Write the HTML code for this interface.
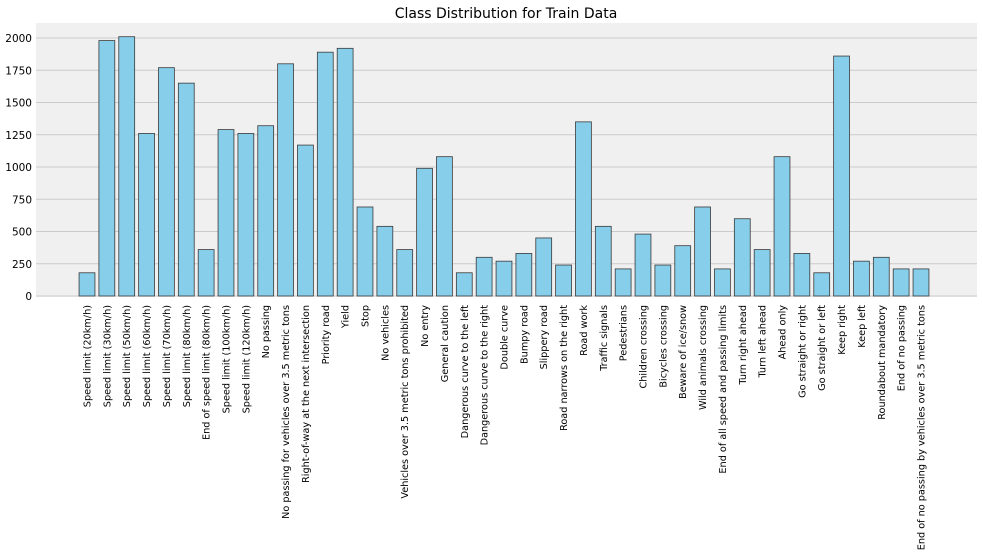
<!DOCTYPE html>
<html><head><meta charset="utf-8"><style>
body{margin:0;background:#fff;}
svg{display:block;font-family:"DejaVu Sans","Liberation Sans",sans-serif;}
</style></head><body>
<svg id="chart" width="982" height="559"></svg>
<script>
const categories=["Speed limit (20km/h)","Speed limit (30km/h)","Speed limit (50km/h)","Speed limit (60km/h)","Speed limit (70km/h)","Speed limit (80km/h)","End of speed limit (80km/h)","Speed limit (100km/h)","Speed limit (120km/h)","No passing","No passing for vehicles over 3.5 metric tons","Right-of-way at the next intersection","Priority road","Yield","Stop","No vehicles","Vehicles over 3.5 metric tons prohibited","No entry","General caution","Dangerous curve to the left","Dangerous curve to the right","Double curve","Bumpy road","Slippery road","Road narrows on the right","Road work","Traffic signals","Pedestrians","Children crossing","Bicycles crossing","Beware of ice/snow","Wild animals crossing","End of all speed and passing limits","Turn right ahead","Turn left ahead","Ahead only","Go straight or right","Go straight or left","Keep right","Keep left","Roundabout mandatory","End of no passing","End of no passing by vehicles over 3.5 metric tons"];
const counts=[180,1980,2010,1260,1770,1650,360,1290,1260,1320,1800,1170,1890,1920,690,540,360,990,1080,180,300,270,330,450,240,1350,540,210,480,240,390,690,210,599,360,1080,330,180,1860,270,300,210,210];
const yTicks=[0,250,500,750,1000,1250,1500,1750,2000];

const NS="http://www.w3.org/2000/svg";
const svg=document.getElementById('chart');
const L=36,R=977,T=23,B=297;
const y0=296,yPer=(296-38)/2000;
const yS=v=>y0-v*yPer;
const x0=87,step=(921-87)/42;
const xS=i=>x0+i*step;
function mk(t,a,p){const e=document.createElementNS(NS,t);for(const k in a)e.setAttribute(k,a[k]);(p||svg).appendChild(e);return e;}

const bg=mk('rect',{x:L,y:T,width:R-L,height:B-T,fill:'#f0f0f0'});



const title=mk('text',{x:506,y:18,'text-anchor':'middle','font-size':14,fill:'#000'});
title.textContent='Class Distribution for Train Data';



yTicks.forEach(v=>{
  const g=mk('line',{x1:L,x2:R,y1:yS(v),y2:yS(v),stroke:'#cbcbcb','stroke-width':1});
  
  
  const t=mk('text',{x:32,y:yS(v)+4,'text-anchor':'end','font-size':10.5,fill:'#000'});
  t.textContent=v;
  
  
});

const bw=step*0.8;
counts.forEach((v,i)=>{
  const r=mk('rect',{x:xS(i)-bw/2,y:yS(v),width:bw,height:v*yPer,fill:'#87ceeb',stroke:'#3a3a3a','stroke-width':0.8});
  
  
  const t=mk('text',{transform:`translate(${xS(i)+3.5},305) rotate(-90)`,'text-anchor':'end','font-size':9.7,fill:'#000'});
  t.textContent=categories[i];
  
  
});
</script>
</body></html>
